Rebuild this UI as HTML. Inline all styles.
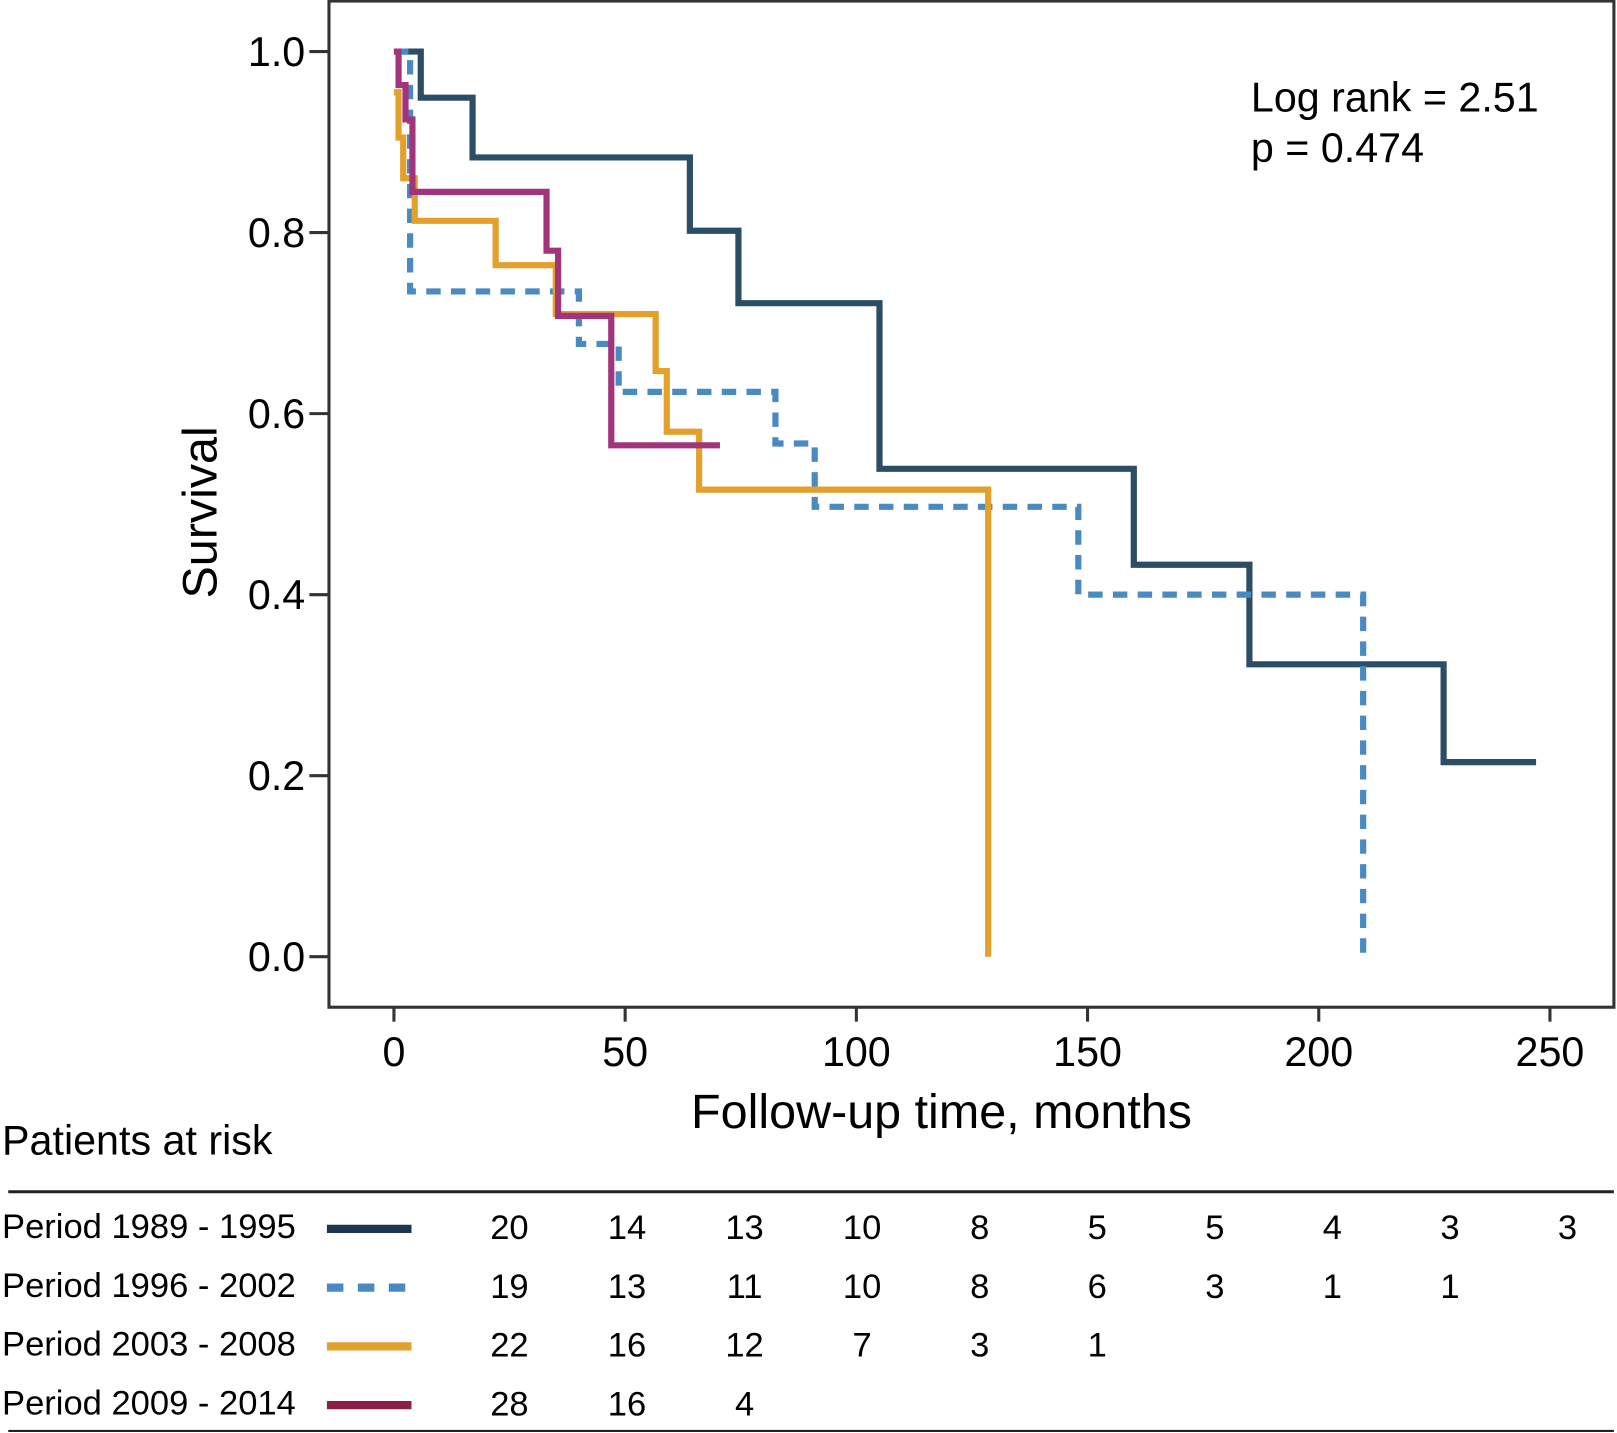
<!DOCTYPE html>
<html><head><meta charset="utf-8"><style>
body{margin:0;background:#fff;}
svg{display:block;}
svg text{font-family:"Liberation Sans",sans-serif;fill:#000;}
</style></head><body>
<svg id="c" width="1617" height="1433" viewBox="0 0 1568 1390" preserveAspectRatio="none" xmlns="http://www.w3.org/2000/svg">
<rect x="319" y="1" width="1246" height="976" fill="none" stroke="#333" stroke-width="3"/>
<g id="axes"></g>
<g id="series"></g>
<text x="210" y="497" font-size="47" text-anchor="middle" transform="rotate(-90 210 497)">Survival</text>
<text x="913" y="1094" font-size="47" text-anchor="middle">Follow-up time, months</text>
<text x="1213" y="108" font-size="40">Log rank = 2.51</text>
<text x="1213" y="157" font-size="40">p = 0.474</text>
<text x="2" y="1120" font-size="40">Patients at risk</text>
<line x1="8" y1="1156" x2="1565" y2="1156" stroke="#222" stroke-width="3"/>
<line x1="8" y1="1388" x2="1565" y2="1388" stroke="#222" stroke-width="2"/>
<g id="risk"></g>
</svg>
<script>
const xTicks=[0,50,100,150,200,250];
const yTicks=[0.0,0.2,0.4,0.6,0.8,1.0];
const seriesNames=["Period 1989 - 1995","Period 1996 - 2002","Period 2003 - 2008","Period 2009 - 2014"];
const s1Times=[0,5.8,17,64,74.5,105,160,185,227,247];
const s1Surv=[1.0,0.949,0.883,0.802,0.722,0.539,0.433,0.323,0.215,0.215];
const s2Times=[0,3.5,40,48.6,82.5,91,148,209.6];
const s2Surv=[1.0,0.735,0.677,0.624,0.567,0.497,0.40,0.0];
const s3Times=[0,1,2,4.5,22,35,56.6,59,66,128.5];
const s3Surv=[0.955,0.905,0.86,0.813,0.764,0.71,0.647,0.58,0.516,0.0];
const s4Times=[0,1,2.5,4,33,35.5,47,70.5];
const s4Surv=[1.0,0.963,0.925,0.845,0.78,0.708,0.565,0.565];
const risk1=[20,14,13,10,8,5,5,4,3,3];
const risk2=[19,13,11,10,8,6,3,1,1];
const risk3=[22,16,12,7,3,1];
const risk4=[28,16,4];
const NS="http://www.w3.org/2000/svg";
const X=v=>382+v*(1503-382)/250;
const Y=v=>928-v*878;
function mk(t,a,p){const e=document.createElementNS(NS,t);for(const k in a)e.setAttribute(k,a[k]);p.appendChild(e);return e;}
const ax=document.getElementById('axes');
yTicks.forEach(v=>{
 const l=mk('line',{x1:300,x2:319,y1:Y(v),y2:Y(v),stroke:'#333','stroke-width':3},ax);
 
 
 const t=mk('text',{x:296,y:Y(v)+14,'font-size':40,'text-anchor':'end'},ax);t.textContent=v.toFixed(1);
 
 
});
xTicks.forEach(v=>{
 const l=mk('line',{x1:X(v),x2:X(v),y1:977,y2:991,stroke:'#333','stroke-width':3},ax);
 
 
 const t=mk('text',{x:X(v),y:1034,'font-size':40,'text-anchor':'middle'},ax);t.textContent=v;
 
 
});
const styles=[{c:'#2c4d66',d:''},{c:'#4a8ac2',d:'14 10'},{c:'#e3a12c',d:''},{c:'#a1347a',d:''}];
const data=[[s1Times,s1Surv],[s2Times,s2Surv],[s3Times,s3Surv],[s4Times,s4Surv]];
const sg=document.getElementById('series');
data.forEach((d,i)=>{
 const [tt,ss]=d;let p='M'+X(tt[0])+','+Y(ss[0]);
 for(let k=1;k<tt.length;k++){p+=' H'+X(tt[k])+' V'+Y(ss[k]);}
 const e=mk('path',{d:p,fill:'none',stroke:styles[i].c,'stroke-width':6,'stroke-dasharray':styles[i].d},sg);
 
 
});
const rg=document.getElementById('risk');
const risks=[risk1,risk2,risk3,risk4];
const legendCols=['#1e3550','#4a8ac2','#e3a12c','#8b1f48'];
seriesNames.forEach((n,i)=>{
 const y=1189+i*57;
 const t=mk('text',{x:2,y:y+12,'font-size':33.5},rg);t.textContent=n;
 
 
 const l=mk('line',{x1:317,x2:399,y1:y+3,y2:y+3,stroke:legendCols[i],'stroke-width':8,'stroke-dasharray':i==1?'16 14':''},rg);
 
 
 risks[i].forEach((v,j)=>{
  const c=mk('text',{x:494+j*114,y:y+13,'font-size':33.5,'text-anchor':'middle'},rg);c.textContent=v;
  
  
 });
});
</script>
</body></html>
